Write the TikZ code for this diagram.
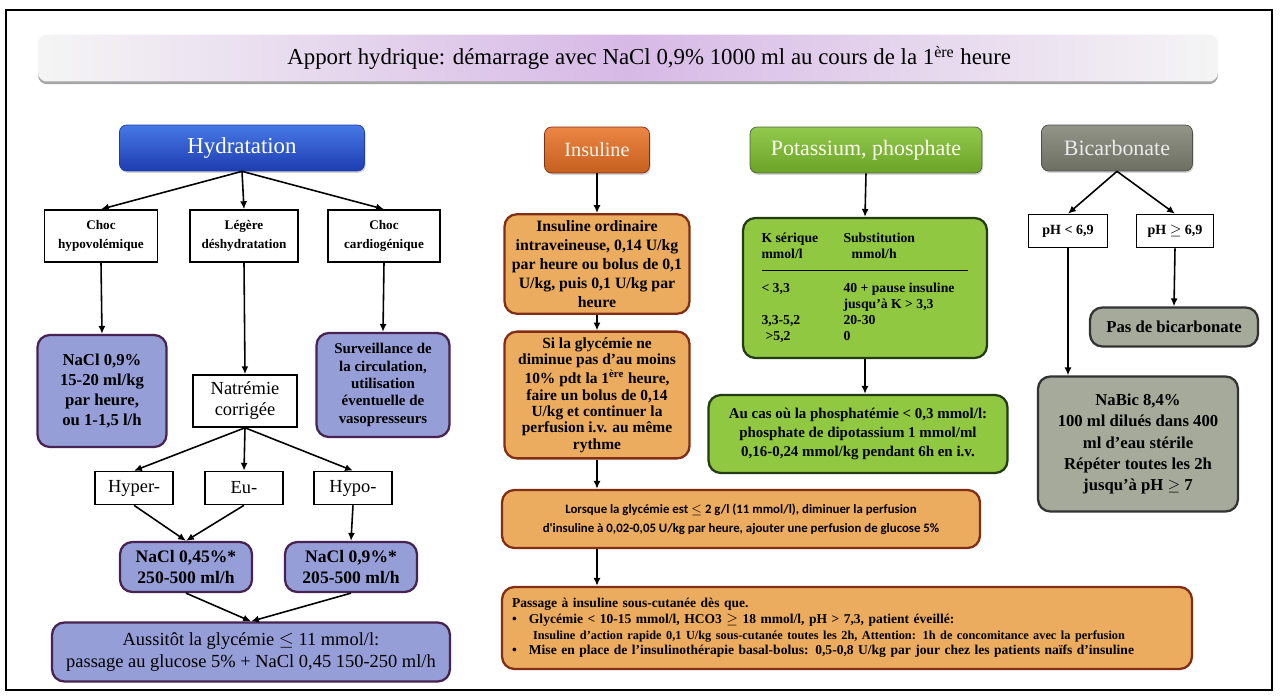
\documentclass[tikz,border=0pt]{standalone}
\usepackage{fontspec}
\setmainfont{Liberation Serif}
\newfontfamily\calibfont{Carlito}
\usetikzlibrary{arrows.meta,shadows}
\definecolor{hydblue}{RGB}{70,120,230}
\definecolor{hydbluedark}{RGB}{30,60,175}
\definecolor{lavender}{RGB}{150,158,215}
\definecolor{lavedge}{RGB}{70,35,80}
\definecolor{insorange}{RGB}{232,112,35}
\definecolor{paleorange}{RGB}{236,172,95}
\definecolor{orangeedge}{RGB}{130,45,20}
\definecolor{kgreen}{RGB}{125,192,45}
\definecolor{palegreen}{RGB}{145,200,65}
\definecolor{greenedge}{RGB}{35,60,20}
\definecolor{bicgray}{RGB}{128,130,115}
\definecolor{bicpale}{RGB}{165,170,155}
\definecolor{titlepink}{RGB}{215,185,230}
\begin{document}
\begin{tikzpicture}[x=0.02cm, y=-0.02cm,
    hdr/.style={rounded corners=4pt, minimum height=0.92cm, text=white,
      font=\fontsize{12.5}{15}\selectfont,
      drop shadow={shadow xshift=0.6pt, shadow yshift=-1pt, opacity=0.35}},
    optbox/.style={draw, line width=0.9pt, fill=white, align=center},
    smallopt/.style={optbox, minimum height=1.04cm, font=\bfseries\fontsize{7.5}{10.5}\selectfont},
    signbox/.style={optbox, minimum width=1.56cm, minimum height=0.66cm, font=\fontsize{10.5}{12}\selectfont},
    purplebox/.style={draw=lavedge, line width=1.3pt, rounded corners=7pt, fill=lavender, align=center,
      font=\bfseries\fontsize{9.5}{11.3}\selectfont},
    orangebox/.style={draw=orangeedge, line width=1.3pt, rounded corners=7pt, fill=paleorange, align=center,
      font=\bfseries\fontsize{9}{10.9}\selectfont},
    greenbox/.style={draw=greenedge, line width=1.3pt, rounded corners=7pt, fill=palegreen, align=center,
      font=\bfseries\fontsize{8.5}{10.8}\selectfont},
    graybox/.style={draw=black!80, line width=1.3pt, rounded corners=7pt, fill=bicpale, align=center,
      font=\bfseries\fontsize{9.5}{12.2}\selectfont},
    arr/.style={-{Latex[length=4.5pt,width=4pt]}, line width=0.9pt}]

    \useasboundingbox (0,0) rectangle (1286,696);
    % outer frame
    \draw[line width=1.2pt] (6,10) rectangle (1272,690);

    % title bar
    \node[rounded corners=5pt, left color=gray!8, right color=gray!8, middle color=titlepink,
      minimum width=23.6cm, minimum height=0.94cm, font=\fontsize{13}{15}\selectfont,
      drop shadow={shadow xshift=0pt, shadow yshift=-1.5pt, opacity=0.7}] (title) at (628,58)
      {\hspace*{0.85cm}Apport hydrique: démarrage avec NaCl 0,9\% 1000 ml au cours de la 1\textsuperscript{ère} heure};

    % Hydratation column
    \node[hdr, top color=hydblue, bottom color=hydbluedark, draw=hydbluedark, minimum width=4.9cm,
      font=\fontsize{13}{15}\selectfont] (hyd) at (242,148) {Hydratation};
    \node[smallopt, minimum width=2.26cm] (chochypo) at (101,236) {Choc\\hypovolémique};
    \node[smallopt, minimum width=2.16cm] (legere) at (244,236) {Légère\\déshydratation};
    \node[smallopt, minimum width=2.24cm] (choccardio) at (384,236) {Choc\\cardiogénique};

    \node[purplebox, minimum width=2.58cm, minimum height=2.24cm] (nacl09) at (102,391) {NaCl 0,9\%\\15-20 ml/kg\\par heure,\\ou 1-1,5 l/h};
    \node[optbox, minimum width=2.08cm, minimum height=1.04cm, font=\fontsize{10.5}{12}\selectfont] (natremie) at (245,401) {Natrémie\\corrigée};
    \node[purplebox, minimum width=2.66cm, minimum height=2.08cm, font=\bfseries\fontsize{8.5}{9.9}\selectfont] (surv) at (383,385)
      {Surveillance de\\la circulation,\\utilisation\\éventuelle de\\vasopresseurs};

    \node[signbox] (hyper) at (134,488) {Hyper-};
    \node[signbox] (eu) at (244,488) {Eu-};
    \node[signbox] (hypo) at (353,488) {Hypo-};

    \node[purplebox, minimum width=2.64cm, minimum height=1cm, font=\bfseries\fontsize{10}{12.4}\selectfont] (nacl045) at (186,567) {NaCl 0,45\%*\\250-500 ml/h};
    \node[purplebox, minimum width=2.64cm, minimum height=1cm, font=\bfseries\fontsize{10}{12.4}\selectfont] (nacl09b) at (351,567) {NaCl 0,9\%*\\205-500 ml/h};
    \node[purplebox, minimum width=7.96cm, minimum height=1.18cm, font=\fontsize{10.5}{12.5}\selectfont] (aussitot) at (251,652)
      {Aussitôt la glycémie $\leq$ 11 mmol/l:\\passage au glucose 5\% + NaCl 0,45 150-250 ml/h};

    \draw[arr] (hyd.south) -- (chochypo.north);
    \draw[arr] (hyd.south) -- (legere.north);
    \draw[arr] (hyd.south) -- (choccardio.north);
    \draw[arr] (chochypo.south) -- (nacl09.north);
    \draw[arr] (legere.south) -- (natremie.north);
    \draw[arr] (choccardio.south) -- (surv.north);
    \draw[arr] (natremie.south) -- (hyper.north);
    \draw[arr] (natremie.south) -- (eu.north);
    \draw[arr] (natremie.south) -- (hypo.north);
    \draw[arr] (hyper.south) -- (nacl045.north);
    \draw[arr] (eu.south) -- (nacl045.north);
    \draw[arr] (hypo.south) -- (nacl09b.north);
    \draw[arr] (nacl045.south) -- (aussitot.north);
    \draw[arr] (nacl09b.south) -- (aussitot.north);

    % Insuline column
    \node[hdr, top color=insorange!85!white, bottom color=insorange!85!black, draw=orangeedge, minimum width=2.1cm,
      text=orange!8, font=\fontsize{11.5}{14}\selectfont] (ins) at (597,150) {Insuline};
    \node[orangebox, minimum width=3.7cm, minimum height=1.94cm] (insord) at (597,264)
      {Insuline ordinaire\\intraveineuse, 0,14 U/kg\\par heure ou bolus de 0,1\\U/kg, puis 0,1 U/kg par\\heure};
    \node[orangebox, minimum width=3.7cm, minimum height=2.48cm, font=\bfseries\fontsize{8.8}{9.3}\selectfont] (siglyc) at (597,395)
      {Si la glycémie ne\\diminue pas d'au moins\\10\% pdt la 1\textsuperscript{ère} heure,\\faire un bolus de 0,14\\U/kg et continuer la\\perfusion i.v. au même\\rythme};
    \node[orangebox, minimum width=9.56cm, minimum height=1.16cm, font=\calibfont\bfseries\fontsize{7.3}{11}\selectfont] (lorsque) at (741,519)
      {Lorsque la glycémie est $\leq$ 2 g/l (11 mmol/l), diminuer la perfusion\\d'insuline à 0,02-0,05 U/kg par heure, ajouter une perfusion de glucose 5\%};
    \node[orangebox, minimum width=13.8cm, minimum height=1.64cm, align=left, text width=13.4cm,
      font=\bfseries\fontsize{7.7}{9}\selectfont] (passage) at (847,628)
      {Passage à insuline sous-cutanée dès que.\\
       \textbullet\hspace{0.9em}Glycémie < 10-15 mmol/l, HCO3 $\geq$ 18 mmol/l, pH > 7,3, patient éveillé:\\
       \hspace{1.55em}{\fontsize{7}{9}\selectfont Insuline d'action rapide 0,1 U/kg sous-cutanée toutes les 2h, Attention: 1h de concomitance avec la perfusion}\\
       \textbullet\hspace{0.9em}Mise en place de l'insulinothérapie basal-bolus: 0,5-0,8 U/kg par jour chez les patients naïfs d'insuline};

    \draw[arr] (ins.south) -- (insord.north);
    \draw[arr] (insord.south) -- (siglyc.north);
    \draw[arr] (siglyc.south) -- (siglyc.south |- lorsque.north);
    \draw[arr] (siglyc.south |- lorsque.south) -- (siglyc.south |- passage.north);

    % Potassium, phosphate column
    \node[hdr, top color=kgreen!85!white, bottom color=kgreen!85!black, draw=greenedge!80, minimum width=4.64cm,
      text=yellow!5] (kpo) at (866,150) {Potassium, phosphate};
    \node[greenbox, minimum width=4.88cm, minimum height=2.8cm, font=\bfseries\fontsize{7.8}{9}\selectfont] (ktab) at (865,288)
      {\setlength{\arrayrulewidth}{0.9pt}%
       \begin{tabular}{@{}p{1.64cm}@{}p{2.5cm}@{}}
       K sérique & Substitution\\
       mmol/l & \hspace{0.6em}mmol/h\\[4pt]
       \hline
       \rule{0pt}{12pt}< 3,3 & 40 + pause insuline\\
        & jusqu'à K > 3,3\\
       3,3-5,2 & 20-30\\
       \hspace{0.3em}>5,2 & 0
       \end{tabular}};
    \node[greenbox, minimum width=5.98cm, minimum height=1.56cm] (aucas) at (858,434)
      {Au cas où la phosphatémie < 0,3 mmol/l:\\phosphate de dipotassium 1 mmol/ml\\0,16-0,24 mmol/kg pendant 6h en i.v.};

    \draw[arr] (kpo.south) -- (ktab.north);
    \draw[arr] (ktab.south) -- (ktab.south |- aucas.north);

    % Bicarbonate column
    \node[hdr, top color=bicgray!85!white, bottom color=bicgray!85!black, draw=bicgray!60!black, minimum width=3.02cm,
      text=white!92!black] (bic) at (1117,148) {Bicarbonate};
    \node[optbox, minimum width=1.58cm, minimum height=0.66cm, font=\bfseries\fontsize{8}{10}\selectfont] (phlow) at (1068,231) {pH < 6,9};
    \node[optbox, minimum width=1.54cm, minimum height=0.66cm, font=\bfseries\fontsize{8}{10}\selectfont] (phhigh) at (1175,231) {pH $\geq$ 6,9};
    \node[graybox, minimum width=3.36cm, minimum height=0.78cm] (pasbic) at (1174,327) {Pas de bicarbonate};
    \node[graybox, minimum width=4cm, minimum height=2.7cm] (nabic) at (1138,444)
      {NaBic 8,4\%\\100 ml dilués dans 400\\ml d'eau stérile\\Répéter toutes les 2h\\jusqu'à pH $\geq$ 7};

    \draw[arr] (bic.south) -- (phlow.north);
    \draw[arr] (bic.south) -- (phhigh.north);
    \draw[arr] (phhigh.south) -- (pasbic.north);
    \draw[arr] (phlow.south) -- (phlow.south |- nabic.north);
\end{tikzpicture}
\end{document}
